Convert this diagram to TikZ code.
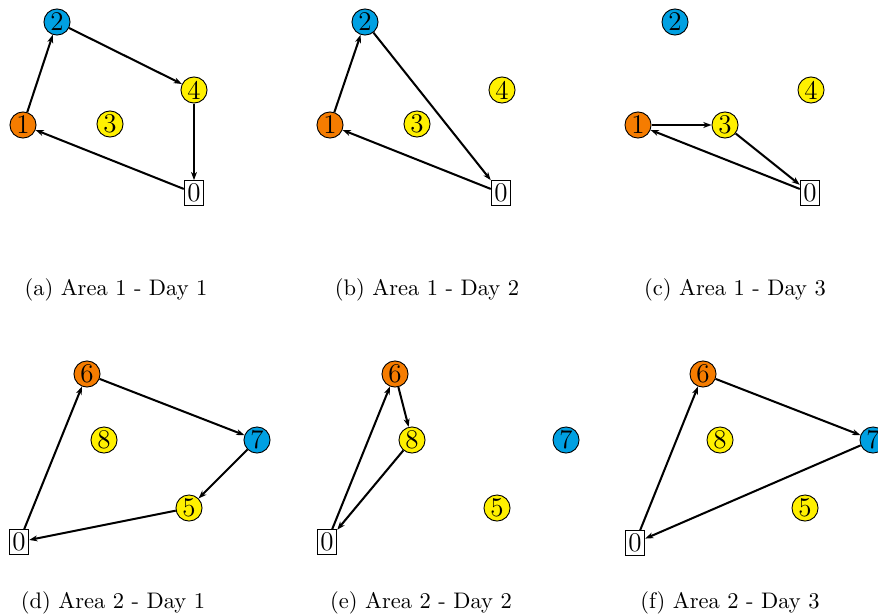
\documentclass[tikz,border=0pt]{standalone}
\usetikzlibrary{arrows.meta}
\definecolor{nodeorange}{RGB}{245,124,0}
\definecolor{nodeblue}{RGB}{0,160,226}
\definecolor{nodeyellow}{RGB}{255,240,0}
\begin{document}
\begin{tikzpicture}[x=0.4444pt,y=-0.4444pt,
  vtx/.style={circle,draw=black,line width=0.4pt,minimum size=11.6pt,inner sep=0pt,font=\large},
  orangev/.style={vtx,fill=nodeorange},
  bluev/.style={vtx,fill=nodeblue},
  yellowv/.style={vtx,fill=nodeyellow},
  depot/.style={rectangle,draw=black,line width=0.4pt,fill=white,inner sep=1.4pt,font=\large},
  route/.style={-{Stealth[length=3.6pt,width=2.6pt,inset=1pt]},line width=0.9pt},
  captext/.style={font=\normalsize}]
\useasboundingbox (0,0) rectangle (878,614);
\fill[white] (0,0) rectangle (878,614);

% ---------- (a) ----------
\node[bluev]   (a2) at (57,22) {2};
\node[yellowv] (a4) at (194,90) {4};
\node[orangev] (a1) at (23,125) {1};
\node[yellowv] (a3) at (110,124) {3};
\node[depot]   (a0) at (194,193) {0};
\draw[route] (a1) -- (a2);
\draw[route] (a2) -- (a4);
\draw[route] (a4) -- (a0);
\draw[route] (a0) -- (a1);
\node[captext] (capa) at (116,290) {(a) Area 1 - Day 1};

% ---------- (b) ----------
\node[bluev]   (b2) at (365,22) {2};
\node[yellowv] (b4) at (502,90) {4};
\node[orangev] (b1) at (330,125) {1};
\node[yellowv] (b3) at (417,124) {3};
\node[depot]   (b0) at (501,193) {0};
\draw[route] (b1) -- (b2);
\draw[route] (b2) -- (b0);
\draw[route] (b0) -- (b1);
\node[captext] (capb) at (427,290) {(b) Area 1 - Day 2};

% ---------- (c) ----------
\node[bluev]   (c2) at (675,22) {2};
\node[yellowv] (c4) at (811,90) {4};
\node[orangev] (c1) at (638,125) {1};
\node[yellowv] (c3) at (725,125) {3};
\node[depot]   (c0) at (810,193) {0};
\draw[route] (c1) -- (c3);
\draw[route] (c3) -- (c0);
\draw[route] (c0) -- (c1);
\node[captext] (capc) at (735,290) {(c) Area 1 - Day 3};

% ---------- (d) ----------
\node[orangev] (d6) at (87,374) {6};
\node[yellowv] (d8) at (104,440) {8};
\node[bluev]   (d7) at (257,440) {7};
\node[yellowv] (d5) at (189,508) {5};
\node[depot]   (d0) at (19,542) {0};
\draw[route] (d0) -- (d6);
\draw[route] (d6) -- (d7);
\draw[route] (d7) -- (d5);
\draw[route] (d5) -- (d0);
\node[captext] (capd) at (113,603) {(d) Area 2 - Day 1};

% ---------- (e) ----------
\node[orangev] (e6) at (395,374) {6};
\node[yellowv] (e8) at (412,440) {8};
\node[bluev]   (e7) at (566,440) {7};
\node[yellowv] (e5) at (497,508) {5};
\node[depot]   (e0) at (327,542) {0};
\draw[route] (e0) -- (e6);
\draw[route] (e6) -- (e8);
\draw[route] (e8) -- (e0);
\node[captext] (cape) at (421,603) {(e) Area 2 - Day 2};

% ---------- (f) ----------
\node[orangev] (f6) at (703,374) {6};
\node[yellowv] (f8) at (720,440) {8};
\node[bluev]   (f7) at (873,440) {7};
\node[yellowv] (f5) at (805,508) {5};
\node[depot]   (f0) at (635,543) {0};
\draw[route] (f0) -- (f6);
\draw[route] (f6) -- (f7);
\draw[route] (f7) -- (f0);
\node[captext] (capf) at (730,603) {(f) Area 2 - Day 3};
\end{tikzpicture}
\end{document}
